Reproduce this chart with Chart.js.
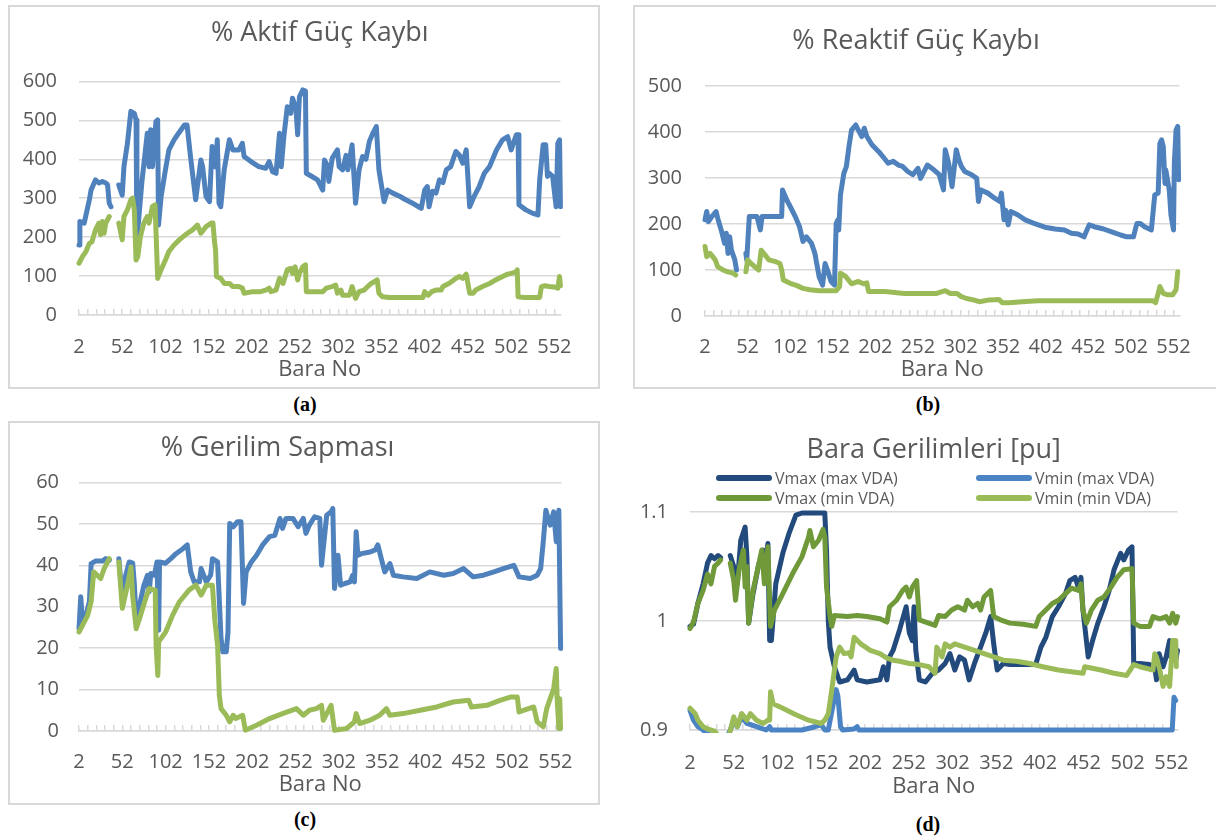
<!DOCTYPE html>
<html>
<head>
<meta charset="utf-8">
<script src="https://cdn.jsdelivr.net/npm/chart.js@4.4.1/dist/chart.umd.min.js"></script>
<style>
  html, body { margin: 0; padding: 0; background: #fff; overflow: hidden; }
  body { width: 1216px; height: 840px; position: relative; }
  .panel { position: absolute; border: 2px solid #d9d9d9; box-sizing: border-box; }
  canvas { position: absolute; display: block; }
  .tag { position: absolute; width: 60px; text-align: center; font: bold 20px "Liberation Serif", "Times New Roman", serif; color: #000; }
  #legendD { position: absolute; left: 716px; top: 468px; display: grid; grid-template-columns: 260px 260px; grid-auto-rows: 20px; }
  #legendD .item { display: flex; align-items: center; font: 16px "Open Sans", sans-serif; color: #595959; white-space: nowrap; }
  #legendD .swatch { display: inline-block; width: 56px; height: 6px; border-radius: 3px; margin-right: 3px; }
</style>
</head>
<body>
<div class="panel" style="left:8px;top:5px;width:592px;height:384px"></div>
<div class="panel" style="left:633px;top:5px;width:600px;height:384px"></div>
<div class="panel" style="left:8px;top:421px;width:592px;height:384px"></div>
<canvas id="chartA" style="left:10px;top:7px" width="588" height="380"></canvas>
<canvas id="chartB" style="left:644px;top:7px" width="572" height="380"></canvas>
<canvas id="chartC" style="left:10px;top:423px" width="588" height="380"></canvas>
<canvas id="chartD" style="left:635px;top:423px" width="581" height="380"></canvas>
<div id="legendD"></div>
<div class="tag" style="left:275px;top:393px">(a)</div>
<div class="tag" style="left:898px;top:393px">(b)</div>
<div class="tag" style="left:275px;top:808px">(c)</div>
<div class="tag" style="left:898px;top:813px">(d)</div>

<script>
// x axis: bus numbers, labels every 50, small marks every 10
const busLabels = [2, 52, 102, 152, 202, 252, 302, 352, 402, 452, 502, 552];
const busMarks = [2, 12, 22, 32, 42, 52, 62, 72, 82, 92, 102, 112, 122, 132, 142, 152, 162, 172, 182, 192,
  202, 212, 222, 232, 242, 252, 262, 272, 282, 292, 302, 312, 322, 332, 342, 352, 362, 372, 382, 392,
  402, 412, 422, 432, 442, 452, 462, 472, 482, 492, 502, 512, 522, 532, 542, 552];

// y axis ticks
const aTicks = [0, 100, 200, 300, 400, 500, 600];
const bTicks = [0, 100, 200, 300, 400, 500];
const cTicks = [0, 10, 20, 30, 40, 50, 60];
const dTicks = [0.9, 1, 1.1];
const dTickLabels = ['0.9', '1', '1.1'];

// (a) % Aktif Güç Kaybı
const aBlueBus = [2, 3, 8, 14, 16, 21, 25, 29, 33, 35, 37, 39, 44, 48, 52, 54, 58, 62, 66, 68, 69, 71, 75, 81, 83, 85, 87, 91, 93, 94, 97,
  102, 106, 112, 116, 124, 127, 131, 137, 143, 145, 149, 153, 156, 160, 162, 164, 166, 170, 176, 180, 187, 191, 193, 201,
  210, 218, 222, 226, 230, 234, 236, 239, 243, 247, 249, 253, 255, 257, 261, 264, 265, 272, 278, 284, 286, 290, 291, 295,
  301, 303, 307, 311, 313, 318, 322, 326, 330, 334, 338, 342, 346, 349, 355, 359, 365, 373, 380, 388, 398,
  402, 405, 407, 411, 415, 419, 423, 427, 432, 438, 442, 446, 450, 454, 459, 465, 471, 477, 485, 492, 498,
  502, 508, 510, 511, 519, 527, 533, 535, 539, 542, 544, 546, 550, 554, 556, 558, 559];
const aBlueVal = [180, 240, 236, 296, 321, 347, 339, 343, 339, 335, 287, 278, null, 334, 308, 381, 440, 523, 518, 501, 193, 244, 347, 467, 381, 476, 381, 497, 501, 231, 304,
  373, 424, 450, 463, 488, 488, 407, 296, 398, 381, 304, 291, 433, 380, 450, 287, 278, 373, 450, 424, 424, 441, 407, 394,
  381, 377, 394, 368, 364, 467, 381, 458, 535, 518, 557, 530, 463, 560, 578, 575, 364, 355, 347, 321, 398, 381, 343, 403,
  424, 381, 373, 410, 373, 437, 287, 373, 407, 400, 446, 467, 484, 373, 291, 321, 313, 305, 296, 287, 274,
  321, 330, 278, 318, 313, 347, 340, 373, 381, 420, 411, 390, 424, 278, 304, 330, 364, 381, 424, 450, 458,
  424, 463, 463, 283, 270, 261, 257, 347, 437, 437, 356, 364, 356, 278, 441, 450, 278];
const aGreenBus = [2, 6, 10, 14, 17, 21, 25, 27, 29, 31, 33, 37, 44, 48, 52, 54, 58, 62, 64, 66, 68, 70, 73, 77, 81, 83, 87, 90, 93, 97,
  102, 106, 112, 118, 125, 133, 139, 143, 149, 155, 157, 159, 160, 161, 166, 170, 176, 180, 187, 191, 193,
  203, 212, 218, 222, 224, 230, 234, 238, 243, 247, 249, 252, 255, 257, 261, 264, 265, 276, 284, 288, 295, 299,
  301, 305, 307, 315, 318, 322, 326, 332, 336, 340, 344, 347, 349, 353, 361, 376, 400,
  402, 406, 410, 415, 421, 423, 430, 438, 442, 446, 450, 454, 458, 461, 469, 477, 484, 492, 498,
  502, 508, 509, 510, 517, 529, 535, 537, 541, 546, 554, 556, 558, 559];
const aGreenVal = [133, 150, 163, 184, 188, 218, 236, 206, 240, 210, 236, 253, null, 236, 193, 253, 270, 296, 300, 270, 141, 150, 201, 236, 253, 236, 279, 283, 94, 116,
  141, 163, 180, 193, 206, 218, 231, 210, 227, 236, 236, 184, 167, 99, 94, 81, 81, 73, 73, 69, 56,
  60, 60, 64, 69, 60, 64, 94, 81, 116, 120, 107, 124, 90, 107, 124, 129, 60, 60, 60, 69, 73, 77,
  56, 64, 51, 51, 73, 43, 60, 64, 73, 81, 86, 90, 56, 47, 45, 45, 45,
  60, 51, 60, 64, 64, 73, 81, 94, 99, 94, 105, 56, 56, 64, 73, 81, 90, 99, 105,
  107, 111, 116, 47, 45, 45, 45, 73, 75, 73, 71, 69, 99, 75];

// (b) % Reaktif Güç Kaybı
const bBlueBus = [2, 4, 6, 10, 15, 17, 21, 25, 27, 29, 31, 33, 37, 39, 45, 50, 51, 54, 63, 67, 69, 75, 92, 93, 98,
  102, 108, 113, 117, 121, 127, 131, 136, 140, 143, 147, 150, 154, 156, 158, 159, 161, 165, 168, 171, 174, 179, 182, 186, 189, 192, 198,
  206, 211, 217, 223, 229, 234, 240, 246, 252, 255, 263, 271, 277, 282, 284, 288, 292, 297,
  300, 303, 307, 315, 321, 323, 326, 334, 342, 348, 350, 353, 355, 358, 361, 369, 378, 390,
  401, 413, 424, 432, 440, 447, 453, 459, 470, 482, 490, 497,
  505, 509, 513, 518, 526, 530, 534, 536, 538, 540, 542, 543, 547, 549, 552, 553, 555, 557, 558];
const bBlueVal = [209, 227, 205, 216, 227, 212, 187, 158, 180, 136, 172, 143, 122, 100, null, 136, 122, 216, 216, 187, 216, 216, 216, 274, 252,
  238, 216, 194, 162, 172, 158, 136, 85, 67, 114, 93, 75, 67, 201, 209, 187, 263, 310, 325, 368, 404, 415, 404, 390, 408, 390, 372,
  357, 346, 332, 336, 328, 325, 314, 307, 321, 299, 328, 317, 307, 274, 361, 332, 281, 361,
  340, 325, 314, 307, 299, 249, 274, 267, 256, 249, 267, 209, 230, 198, 227, 220, 209, 200,
  193, 189, 187, 180, 178, 172, 198, 194, 189, 181, 176, 172,
  172, 201, 201, 194, 187, 263, 267, 375, 383, 368, 288, 317, 274, 220, 187, 332, 404, 412, 296];
const bGreenBus = [2, 4, 8, 14, 17, 23, 29, 35, 38, 45, 50, 52, 56, 65, 68, 71, 77, 85, 90, 92, 94,
  102, 110, 117, 125, 136, 156, 160, 161, 167, 174, 182, 188, 192, 194,
  213, 236, 259, 274, 284, 290, 298, 303, 309, 317, 324, 336, 347, 351, 359, 374, 393,
  432, 470, 509, 528, 531, 534, 536, 540, 545, 551, 555, 557];
const bGreenVal = [151, 129, 136, 122, 107, 100, 96, 93, 89, null, 96, 122, 114, 100, 143, 136, 122, 118, 114, 100, 78,
  71, 66, 60, 57, 55, 55, 64, 93, 86, 70, 75, 70, 72, 53,
  53, 49, 49, 49, 55, 49, 49, 42, 38, 35, 31, 35, 36, 29, 29, 31, 33,
  33, 33, 33, 33, 29, 49, 64, 49, 46, 46, 57, 96];

// (c) % Gerilim Sapması
const cBlueBus = [2, 4, 6, 10, 14, 16, 21, 29, 33, 37, 43, 48, 52, 56, 60, 64, 66, 68, 71, 77, 81, 83, 85, 89, 92, 94, 95,
  102, 108, 114, 122, 127, 131, 135, 141, 143, 149, 154, 156, 162, 166, 168, 172, 174, 176, 180, 185, 189, 192, 195,
  201, 207, 214, 222, 228, 234, 237, 241, 249, 255, 261, 264, 268, 274, 280, 282, 288, 293, 295, 297,
  301, 304, 309, 315, 318, 320, 322, 324, 328, 338, 344, 347, 351, 355, 361, 365, 376, 392,
  407, 423, 434, 446, 457, 469, 481, 492, 504, 510, 523, 531, 535, 538, 541, 546, 550, 553, 556, 558];
const cBlueVal = [24.7, 32.4, 26.3, 27.9, 31.2, 40.4, 41, 41, 41.6, 41.2, null, 41.6, 32, 37.6, 40.8, 40.5, 35.2, 26.3, 29.6, 35.2, 37.6, 33.6, 38, 37.6, 40.8, 24.3, 40.8,
  40.5, 41.6, 42.8, 44, 44.9, 38.4, 36, 36, 39.2, 36, 37.6, 41.6, 40.8, 22.3, 19.1, 19.1, 23.9, 50.1, 49.3, 50.5, 50.5, 30.8, 38.4,
  40.8, 42.4, 44.9, 46.9, 47.2, 51.3, 48.9, 51.3, 51.3, 49.3, 51.3, 47.7, 49.7, 51.7, 51.3, 40, 52.1, 52.9, 53.7, 34.4,
  42.4, 35.2, 35.6, 36, 37.6, 36, 48.1, 42.4, 42.8, 43.2, 43.7, 44.9, 41.6, 38.4, 40.4, 37.6, 37.2, 36.8,
  38.4, 37.6, 38, 39.2, 37.2, 37.6, 38.4, 39.2, 40, 37.2, 36.8, 37.6, 39.2, 45.7, 53.3, 49.7, 52.9, 45.7, 53.3, 19.9];
const cGreenBus = [2, 6, 12, 16, 19, 23, 27, 31, 37, 43, 48, 52, 58, 62, 64, 68, 73, 79, 83, 90, 91, 93, 94,
  102, 110, 118, 129, 137, 143, 149, 156, 159, 162, 164, 166, 172, 176, 180, 183, 191, 194,
  207, 222, 237, 253, 261, 268, 276, 282, 284, 288, 293, 297,
  311, 320, 322, 326, 338, 349, 357, 361, 376, 396, 415, 434, 452, 455, 473, 488,
  500, 508, 510, 527, 531, 538, 542, 546, 550, 553, 554, 556, 557, 558];
const cGreenVal = [23.9, 25.5, 27.9, 31.2, 38.4, 37.6, 36.8, 39.2, 41.6, null, 40.8, 29.6, 35.2, 39.6, 32.5, 24.7, 27.9, 32, 34.4, 34, 20.7, 13.4, 21.5,
  23.9, 27.9, 31.2, 34, 35.2, 32.8, 35.2, 35.2, 26.3, 20.7, 8.6, 5.4, 3.8, 2.2, 3.8, 3, 3.8, 0.2,
  1.4, 3, 4.2, 5.4, 3.8, 5, 5.4, 6.2, 2.6, 4.2, 6.2, 0.2,
  0.6, 2.2, 4.2, 1.8, 2.6, 3.8, 5.4, 3.8, 4.2, 5, 5.8, 7, 7.4, 5.8, 6.2, 7.4,
  8.2, 8.2, 4.6, 5.8, 2.2, 1, 5.4, 7.8, 10.2, 15.1, 7.8, 0.6, 7.8, 0.6];

// (d) Bara Gerilimleri [pu]
const dVmaxMaxBus = [2, 6, 11, 17, 22, 26, 30, 34, 37, 42, 48, 52, 56, 60, 65, 67, 69, 74, 80, 85.5, 89, 91, 93, 95,
  100, 108, 115, 123, 130, 152, 156, 158, 160, 162, 167, 173, 182, 189.5, 193,
  204, 219, 223, 227, 230, 234, 241.5, 249, 252.6, 256, 258, 260, 264, 271, 279, 286, 293.5, 299,
  304.6, 310, 315.7, 321, 327, 334, 340, 345.5, 349, 353, 360, 367.7, 382.6, 397,
  403, 408.6, 416, 423, 431, 436, 442, 445.7, 448.7, 451, 457, 462, 468, 475, 481, 486.5, 494, 497.7,
  503, 507, 509, 516, 527, 533, 535, 538, 542.5, 546, 550, 551.5, 557, 559];
const dVmaxMaxVal = [0.995, 0.997, 1.016, 1.034, 1.053, 1.060, 1.057, 1.060, 1.058, null, 1.060, 1.050, 1.034, 1.074, 1.086, 1.059, 0.998, 1.025, 1.050, 1.065, 1.059, 1.071, 0.982, 0.982,
  1.034, 1.062, 1.080, 1.097, 1.099, 1.099, 1.099, 1.065, 1.000, 0.976, 0.958, 0.944, 0.946, 0.955, 0.946,
  0.944, 0.946, 0.958, 0.946, 0.967, 0.973, 0.992, 1.013, 0.989, 0.982, 1.013, 0.973, 0.946, 0.944, 0.952, 0.955, 0.961, 0.970,
  0.955, 0.967, 0.964, 0.946, 0.961, 0.976, 0.989, 1.004, 0.979, 0.955, 0.961, 0.960, 0.960, 0.960,
  0.976, 0.985, 1.004, 1.013, 1.025, 1.037, 1.040, 1.031, 1.040, 1.010, 0.967, 0.982, 0.998, 1.013, 1.028, 1.047, 1.062, 1.056,
  1.065, 1.068, 0.961, 0.961, 0.960, 0.958, 0.946, 0.970, 0.958, 0.967, 0.982, 0.967, 0.964, 0.973];
const dVminMaxBus = [2, 6, 11, 17, 20, 34, 44, 48, 52, 56, 61, 67, 78, 89, 93, 95,
  130, 145, 152, 156, 160, 165, 169, 171, 174, 176.5, 189.5, 193, 195, 553, 555, 557];
const dVminMaxVal = [0.918, 0.909, 0.903, 0.900, 0.897, 0.893, 0.893, 0.900, 0.909, 0.903, 0.912, 0.906, 0.903, 0.900, 0.903, 0.900,
  0.900, 0.903, 0.905, 0.900, 0.900, 0.921, 0.937, 0.931, 0.903, 0.900, 0.901, 0.903, 0.900, 0.900, 0.930, 0.927];
const dVmaxMinBus = [2, 6, 11, 17, 22, 26, 30, 34, 37, 42, 48, 52, 54, 58, 63, 65, 67, 69, 74, 80, 84, 87, 91, 94, 98.5,
  108, 119, 130, 137.5, 139, 143, 149, 154, 156, 158, 162, 164, 167, 182, 193,
  204, 219, 227, 230, 238, 245, 249, 252.6, 256, 261, 264, 282, 286, 293.5,
  301, 308, 315.7, 319, 325, 330.6, 334, 338, 345.5, 349, 356.6, 367.7, 382.6, 397,
  401, 408.6, 416, 423, 431, 438, 445.7, 448.7, 451, 455, 460.6, 468, 475, 483, 490, 497.7,
  507, 509, 516, 527, 531, 538.8, 546, 550, 553.5, 557, 559];
const dVmaxMinVal = [0.993, 0.999, 1.016, 1.028, 1.043, 1.034, 1.050, 1.053, 1.056, null, 1.053, 1.037, 1.019, 1.047, 1.065, 1.031, 1.050, 0.998, 1.028, 1.050, 1.065, 1.034, 1.068, 0.995, 1.010,
  1.025, 1.043, 1.059, 1.077, 1.083, 1.068, 1.074, 1.084, 1.077, 1.031, 1.004, 0.995, 1.005, 1.004, 1.005,
  1.004, 1.002, 0.999, 1.013, 1.019, 1.028, 1.031, 1.022, 1.031, 1.037, 1.001, 0.996, 1.005, 1.004,
  1.010, 1.013, 1.010, 1.019, 1.013, 1.016, 1.010, 1.022, 1.028, 1.004, 1.001, 0.998, 0.997, 0.995,
  1.004, 1.010, 1.016, 1.019, 1.025, 1.030, 1.028, 1.034, 1.010, 0.998, 1.010, 1.019, 1.022, 1.031, 1.040, 1.047,
  1.048, 0.998, 0.995, 0.995, 1.004, 1.002, 1.004, 0.998, 1.007, 0.998, 1.004];
const dVminMinBus = [2, 8, 11, 17, 22, 30, 36, 46, 52, 56, 61, 67, 71, 78, 85.5, 91, 93, 94, 97,
  108, 123, 137.5, 152, 156, 160, 163.5, 166.5, 169, 173, 178, 184, 186, 189.5, 197,
  208, 219, 227, 234, 241.5, 252.6, 264, 275, 282, 284, 290, 293.5, 299,
  304.6, 315.7, 327, 338, 349, 360, 375, 390,
  405, 423, 442, 451, 453, 471.7, 486.5,
  501, 509, 516, 531, 533, 535, 538.8, 542.5, 546, 550, 553.5, 557, 557.7];
const dVminMinVal = [0.920, 0.915, 0.909, 0.903, 0.901, 0.899, 0.893, 0.893, 0.912, 0.903, 0.915, 0.909, 0.915, 0.909, 0.906, 0.909, 0.909, 0.935, 0.924,
  0.920, 0.914, 0.909, 0.906, 0.909, 0.915, 0.934, 0.952, 0.967, 0.976, 0.970, 0.971, 0.967, 0.985, 0.979,
  0.973, 0.970, 0.966, 0.964, 0.963, 0.961, 0.960, 0.958, 0.952, 0.976, 0.967, 0.979, 0.976,
  0.979, 0.976, 0.973, 0.970, 0.967, 0.964, 0.963, 0.961,
  0.958, 0.955, 0.953, 0.952, 0.958, 0.955, 0.952,
  0.950, 0.960, 0.958, 0.955, 0.970, 0.967, 0.955, 0.940, 0.949, 0.940, 0.982, 0.982, 0.958];

const gridGrey = '#d9d9d9';
const textGrey = '#595959';
const family = '"Open Sans", sans-serif';

function lineSet(label, bus, vals, color, order) {
  return {
    label: label,
    data: bus.map((b, i) => ({ x: b, y: vals[i] })),
    borderColor: color,
    backgroundColor: color,
    borderWidth: 5,
    pointRadius: 0,
    tension: 0,
    borderJoinStyle: 'round',
    borderCapStyle: 'round',
    order: order,
    // let the lines keep their full width at the axis edges
    clip: { left: 3, top: 3, right: 3, bottom: 3 }
  };
}

function makeChart(id, o) {
  return new Chart(document.getElementById(id), {
    type: 'line',
    data: { datasets: o.datasets },
    plugins: o.plugins || [],
    options: {
      responsive: false,
      animation: false,
      events: [],
      layout: { padding: o.pad },
      plugins: {
        legend: { display: false },
        tooltip: { enabled: false },
        title: {
          display: true,
          text: o.title,
          fullSize: o.titleFull,
          color: textGrey,
          font: { family: family, size: 27, weight: 'normal' },
          padding: o.titlePad
        }
      },
      scales: {
        x: {
          type: 'linear',
          min: 2,
          max: 559,
          afterBuildTicks: s => { s.ticks = busMarks.map(v => ({ value: v })); },
          afterFit: s => { s.height = o.xHeight; },
          ticks: {
            autoSkip: false,
            maxRotation: 0,
            padding: o.xPad,
            color: textGrey,
            font: { family: family, size: 20 },
            callback: v => busLabels.includes(v) ? String(v) : ''
          },
          grid: { drawOnChartArea: false, drawTicks: true, tickLength: -6, color: gridGrey, lineWidth: 1.5 },
          border: { color: gridGrey, width: 1.5 },
          title: { display: true, text: 'Bara No', color: textGrey, font: { family: family, size: 22 }, padding: 0 }
        },
        y: {
          min: o.yTicks[0],
          max: o.yTicks[o.yTicks.length - 1],
          afterBuildTicks: s => { s.ticks = o.yTicks.map(v => ({ value: v })); },
          afterFit: s => { s.width = o.yWidth; },
          ticks: {
            padding: o.yPad,
            color: textGrey,
            font: { family: family, size: 20 },
            callback: (v, i) => o.yLabels ? o.yLabels[i] : String(v)
          },
          grid: { color: gridGrey, lineWidth: 1.5, drawTicks: false },
          border: { display: false }
        }
      }
    }
  });
}

// legend of chart (d) as html, 2 x 2 grid like the original
const htmlLegend = {
  id: 'htmlLegend',
  afterUpdate(chart) {
    const box = document.getElementById('legendD');
    box.innerHTML = '';
    const items = chart.options.plugins.legend.labels.generateLabels(chart);
    items.sort((p, q) => p.datasetIndex - q.datasetIndex);
    items.forEach(item => {
      const row = document.createElement('div');
      row.className = 'item';
      const sw = document.createElement('span');
      sw.className = 'swatch';
      sw.style.background = item.strokeStyle;
      const tx = document.createElement('span');
      tx.textContent = item.text;
      row.append(sw, tx);
      box.appendChild(row);
    });
  }
};

const blue = '#4f81bd';
const green = '#9bbb59';

makeChart('chartA', {
  title: '% Aktif Güç Kaybı',
  titleFull: false,
  datasets: [
    lineSet('max VDA', aBlueBus, aBlueVal, blue, 2),
    lineSet('min VDA', aGreenBus, aGreenVal, green, 1)
  ],
  pad: { left: 0, right: 36, top: 0, bottom: 4 },
  titlePad: { top: 10, bottom: 32 },
  yTicks: aTicks, yWidth: 69, yPad: 22,
  xHeight: 68, xPad: 26
});

makeChart('chartB', {
  title: '% Reaktif Güç Kaybı',
  titleFull: true,
  datasets: [
    lineSet('max VDA', bBlueBus, bBlueVal, blue, 2),
    lineSet('min VDA', bGreenBus, bGreenVal, green, 1)
  ],
  pad: { left: 0, right: 28, top: 0, bottom: 4 },
  titlePad: { top: 18.5, bottom: 28 },
  yTicks: bTicks, yWidth: 61, yPad: 23,
  xHeight: 67, xPad: 25
});

makeChart('chartC', {
  title: '% Gerilim Sapması',
  titleFull: true,
  datasets: [
    lineSet('max VDA', cBlueBus, cBlueVal, blue, 2),
    lineSet('min VDA', cGreenBus, cGreenVal, green, 1)
  ],
  pad: { left: -17, right: 36, top: 0, bottom: 5 },
  titlePad: { top: 9, bottom: 18 },
  yTicks: cTicks, yWidth: 86, yPad: 20,
  xHeight: 67, xPad: 25
});

makeChart('chartD', {
  title: 'Bara Gerilimleri [pu]',
  titleFull: false,
  datasets: [
    lineSet('Vmax (max VDA)', dVmaxMaxBus, dVmaxMaxVal, '#234a7c', 4),
    lineSet('Vmin (max VDA)', dVminMaxBus, dVminMaxVal, '#4a84c4', 3),
    lineSet('Vmax (min VDA)', dVmaxMinBus, dVmaxMinVal, '#70993a', 2),
    lineSet('Vmin (min VDA)', dVminMinBus, dVminMinVal, '#9bbb59', 1)
  ],
  plugins: [htmlLegend],
  pad: { left: 0, right: 27, top: 0, bottom: 3 },
  titlePad: { top: 11, bottom: 45.5 },
  yTicks: dTicks, yLabels: dTickLabels, yWidth: 55, yPad: 22,
  xHeight: 70, xPad: 27
});
</script>
</body>
</html>
